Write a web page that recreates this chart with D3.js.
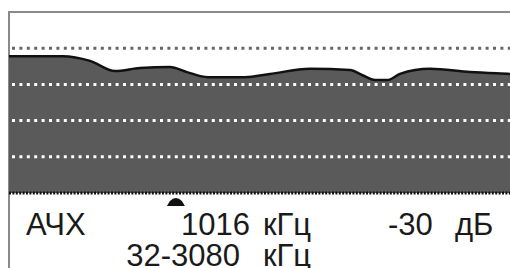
<!DOCTYPE html>
<html>
<head>
<meta charset="utf-8">
<script src="https://cdn.jsdelivr.net/npm/d3@7"></script>
<style>
  html, body { margin: 0; padding: 0; background: #fff; }
  svg { display: block; }
  text { font-family: "Liberation Sans", Arial, sans-serif; fill: #1a1a1a; }
</style>
</head>
<body>
<div id="chart"></div>
<script>
// frequency response (АЧХ)
const freqKHz = [32, 350, 510, 657, 804, 981, 1081, 1205, 1423, 1571, 1807, 2043, 2113, 2190, 2261, 2337, 2426, 2514, 2750, 2986, 3080];
const levelDb = [-12.2, -12.2, -13.5, -16.3, -15.5, -15.2, -16.6, -18.0, -18.0, -17.1, -15.7, -16.0, -17.4, -18.8, -18.8, -17.1, -16.0, -15.7, -16.6, -17.1, -17.3];
const gridDb = [-10, -20, -30, -40];
const markerKHz = 1016;

const width = 510, height = 268;
const margin = {top: 12, left: 9, bottom: 75};

// ----------------------------------
// SCALES
// ----------------------------------
const x = d3.scaleLinear().domain([32, 3080]).range([margin.left, 526]);
const y = d3.scaleLinear().domain([-50, 0]).range([height - margin.bottom, margin.top]);

const svg = d3.select('#chart').append('svg')
  .attr('width', width)
  .attr('height', height);

// frame (top + left only, the rest is cut off)
svg.append('path')
  .attr('d', `M${margin.left},${height}V${margin.top}H${width}`)
  .style('fill', 'none')
  .style('stroke', '#8a8a8a')
  .style('stroke-width', 2);

// gray dotted grid on white
const grid = svg.append('g');
grid.selectAll('line')
  .data(gridDb)
  .enter().append('line')
    .attr('x1', margin.left + 3)
    .attr('x2', width)
    .attr('y1', d => y(d))
    .attr('y2', d => y(d))
    .style('stroke', '#666')
    .style('stroke-width', 3)
    .style('stroke-dasharray', '3,4.4');

// ----------------------------------
// AREA + LINE
// ----------------------------------
const data = freqKHz.map((f, i) => ({f, db: levelDb[i]}));

const area = d3.area()
  .curve(d3.curveMonotoneX)
  .x(d => x(d.f))
  .y0(y(-50))
  .y1(d => y(d.db));

const line = d3.line()
  .curve(d3.curveMonotoneX)
  .x(d => x(d.f))
  .y(d => y(d.db));

svg.append('clipPath').attr('id', 'under')
  .append('path').datum(data).attr('d', area);

svg.append('path')
  .datum(data)
  .attr('d', area)
  .style('fill', '#5a5a5a');

// white dotted grid inside the filled part
svg.append('g')
  .attr('clip-path', 'url(#under)')
  .selectAll('line')
  .data(gridDb)
  .enter().append('line')
    .attr('x1', margin.left + 3)
    .attr('x2', width)
    .attr('y1', d => y(d))
    .attr('y2', d => y(d))
    .style('stroke', '#fff')
    .style('stroke-width', 3)
    .style('stroke-dasharray', '3,4.4');

svg.append('path')
  .datum(data)
  .attr('d', line)
  .style('fill', 'none')
  .style('stroke', '#111')
  .style('stroke-width', 2.5);

// bottom black dotted baseline
svg.append('line')
  .attr('x1', margin.left)
  .attr('x2', width)
  .attr('y1', y(-50))
  .attr('y2', y(-50))
  .style('stroke', '#111')
  .style('stroke-width', 3)
  .style('stroke-dasharray', '2,1.4');

// marker under the current frequency
const mx = x(markerKHz), my = y(-50) + 5;
svg.append('path')
  .attr('d', `M${mx - 9},${my + 8}L${mx - 6},${my + 3}Q${mx - 3},${my} ${mx},${my}Q${mx + 3},${my} ${mx + 6},${my + 3}L${mx + 9},${my + 8}Z`)
  .style('fill', '#111');

// ----------------------------------
// LABELS
// ----------------------------------
const labels = svg.append('g').style('font-size', '31px');
labels.append('text').attr('x', 26).attr('y', 235).text('АЧХ');
labels.append('text').attr('x', 250).attr('y', 235).attr('text-anchor', 'end').text(String(markerKHz));
labels.append('text').attr('x', 263).attr('y', 235).text('кГц');
labels.append('text').attr('x', 388).attr('y', 235).text('-30');
labels.append('text').attr('x', 455).attr('y', 235).text('дБ');
labels.append('text').attr('x', 240).attr('y', 266).attr('text-anchor', 'end').text('32-3080');
labels.append('text').attr('x', 263).attr('y', 266).text('кГц');
</script>
</body>
</html>
